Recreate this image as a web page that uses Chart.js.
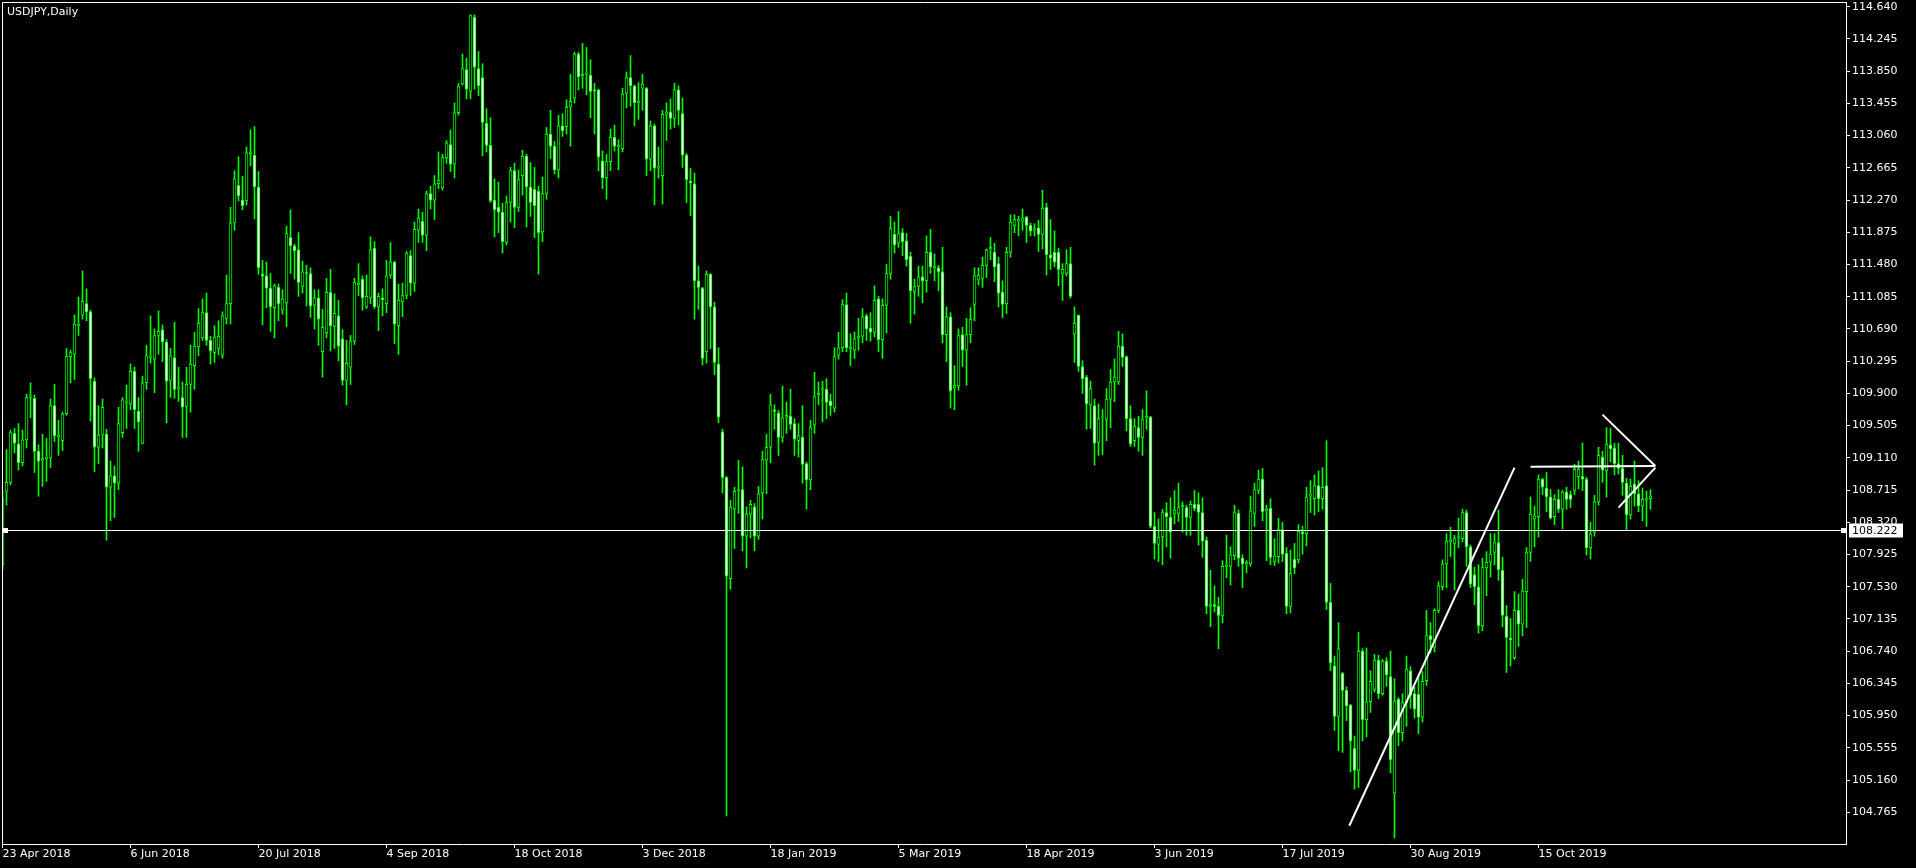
<!DOCTYPE html>
<html>
<head>
<meta charset="utf-8">
<title>USDJPY,Daily</title>
<script src="https://cdn.jsdelivr.net/npm/chart.js@4.4.1/dist/chart.umd.min.js"></script>
<style>
    html, body { margin: 0; padding: 0; background: #000; overflow: hidden; }
    canvas { display: block; }
</style>
</head>
<body>
<canvas id="chart" width="1916" height="868"></canvas>
<script>
// USDJPY daily, 23 Apr 2018 .. 22 Nov 2019 (bar 0 .. 412)
const opens = [
    107.80,108.70,108.81,109.41,109.28,109.05,109.33,109.85,109.84,109.19,
    109.08,109.10,109.11,109.75,109.37,109.32,109.65,110.35,110.38,110.73,
    110.86,111.00,110.90,110.05,109.24,109.39,109.40,108.75,108.89,108.80,
    109.42,109.78,109.77,110.17,109.68,109.29,110.03,110.34,110.32,110.61,
    110.68,110.53,110.06,110.34,109.96,109.85,109.74,110.01,110.24,110.47,
    110.58,110.89,110.55,110.40,110.45,110.37,110.82,111.00,111.99,112.45,
    112.27,112.26,112.84,112.82,112.43,111.36,111.34,111.19,110.95,111.20,
    110.92,111.01,111.81,111.71,111.66,111.21,111.38,111.37,110.98,111.07,
    110.41,110.64,111.14,110.72,110.85,110.57,110.06,110.22,110.54,111.23,
    111.30,110.96,111.07,111.68,110.96,111.07,111.00,111.35,111.51,110.73,
    111.02,111.10,111.59,111.25,111.90,112.01,111.84,112.35,112.27,112.47,
    112.42,112.79,112.95,112.71,113.34,113.69,113.87,113.60,114.51,113.88,
    113.77,113.21,112.94,112.27,112.18,112.12,111.75,112.24,112.63,112.18,
    112.57,112.81,112.43,112.40,112.38,111.88,112.35,113.08,112.93,112.64,
    113.18,113.17,113.41,113.52,114.06,113.79,113.81,113.80,113.62,113.62,
    112.75,112.54,112.74,113.04,112.92,112.90,113.58,113.77,113.67,113.46,
    113.64,113.64,112.77,113.18,112.66,112.57,113.32,113.35,113.27,113.62,
    113.33,112.82,112.50,112.47,111.28,111.19,110.41,111.36,110.96,110.26,
    109.43,108.87,107.63,108.48,108.70,108.72,108.15,108.42,108.51,108.15,
    108.68,109.08,109.24,109.70,109.66,109.36,109.61,109.62,109.53,109.32,
    109.36,109.04,108.84,109.51,109.88,109.94,109.95,109.81,109.72,110.37,
    110.46,110.99,110.45,110.43,110.58,110.60,110.85,110.70,110.65,111.06,
    110.56,110.98,111.37,111.85,111.74,111.87,111.77,111.58,111.15,111.21,
    111.33,111.28,111.63,111.44,111.44,111.39,110.62,110.84,109.97,109.99,
    110.62,110.43,110.62,110.99,111.29,111.31,111.47,111.67,111.63,111.49,
    111.14,111.00,111.63,111.96,112.01,112.01,112.06,111.96,111.90,111.93,
    111.85,112.18,111.60,111.63,111.63,111.37,111.37,111.49,110.63,110.86,
    110.23,110.10,109.76,109.75,109.30,109.60,109.58,109.83,110.04,110.04,
    110.48,110.35,109.59,109.32,109.48,109.36,109.60,109.61,108.27,108.05,
    108.14,108.44,108.38,108.43,108.43,108.51,108.50,108.38,108.54,108.54,
    108.44,108.10,107.29,107.31,107.29,107.18,107.78,107.78,107.91,108.43,
    107.88,107.81,107.81,108.43,108.71,108.85,108.46,108.49,107.84,107.90,
    108.23,107.94,107.29,107.87,107.86,108.20,108.18,108.64,108.61,108.77,
    108.61,108.77,107.34,106.56,105.94,106.47,106.26,106.08,105.55,105.28,
    106.74,105.90,106.12,106.27,106.63,106.22,106.62,106.43,105.00,106.15,
    105.74,106.11,106.50,106.22,106.21,105.93,106.38,106.93,106.79,107.24,
    107.53,107.81,108.08,108.06,108.13,108.12,108.44,108.02,107.68,107.53,
    107.05,107.76,107.83,107.95,108.07,107.73,107.17,106.90,106.66,107.24,
    107.07,107.47,107.95,108.36,108.39,108.85,108.74,108.63,108.39,108.60,
    108.48,108.69,108.66,108.71,108.88,108.88,108.85,108.01,108.20,108.57,
    109.12,108.95,109.27,109.23,109.04,108.98,108.80,108.41,108.79,108.67,
    108.52,108.59,108.61
];
const highs = [
    108.70,109.21,109.45,109.47,109.53,109.45,109.89,110.03,109.88,109.27,
    109.40,109.35,109.83,110.01,109.57,109.67,110.45,110.43,110.86,111.08,
    111.40,111.18,110.92,110.09,109.75,109.83,109.46,109.07,109.01,109.73,
    109.85,110.00,110.26,110.22,109.85,110.11,110.49,110.85,110.69,110.91,
    110.74,110.56,110.45,110.77,110.22,110.04,110.22,110.49,110.65,110.94,
    111.06,111.13,110.60,110.73,110.79,110.90,111.35,112.18,112.63,112.80,
    112.56,112.92,113.13,113.17,112.62,111.53,111.51,111.37,111.24,111.24,
    111.17,111.95,112.15,111.73,111.87,111.52,111.47,111.44,111.17,111.17,
    110.93,111.31,111.42,111.12,111.04,110.68,110.55,110.61,111.31,111.49,
    111.34,111.35,111.82,111.76,111.13,111.18,111.53,111.75,111.52,111.24,
    111.25,111.64,111.65,112.00,112.16,112.12,112.38,112.44,112.57,112.86,
    112.83,113.00,113.13,113.46,113.70,114.06,114.01,114.54,114.54,114.09,
    113.94,113.39,113.28,112.53,112.49,112.23,112.32,112.67,112.72,112.64,
    112.88,112.83,112.73,112.67,112.44,112.55,113.16,113.37,112.99,113.31,
    113.33,113.50,113.81,114.08,114.08,114.19,114.14,113.99,113.70,113.63,
    112.87,112.83,113.14,113.19,113.01,113.64,113.84,114.04,113.68,113.71,
    113.81,113.65,113.24,113.20,112.92,113.37,113.46,113.51,113.70,113.67,
    113.52,112.84,112.66,112.60,111.46,111.20,111.40,111.37,111.02,110.46,
    109.46,108.88,108.59,108.75,109.08,109.00,108.51,108.59,108.55,108.76,
    109.19,109.40,109.89,109.76,109.69,109.99,109.79,109.95,109.59,109.53,
    109.75,109.06,109.57,110.16,110.04,110.05,110.08,109.89,110.46,110.65,
    111.05,111.13,110.63,110.65,110.82,110.94,110.87,110.89,111.22,111.09,
    111.06,111.48,112.07,112.00,112.13,111.92,111.86,111.63,111.30,111.46,
    111.46,111.83,111.91,111.61,111.47,111.69,110.96,110.89,110.24,110.69,
    110.71,110.82,110.95,111.44,111.44,111.57,111.67,111.81,111.74,111.57,
    111.28,111.69,112.09,112.09,112.07,112.16,112.07,111.99,111.98,112.02,
    112.39,112.23,112.03,111.89,111.68,111.49,111.66,111.69,110.96,110.86,
    110.30,110.12,110.05,109.83,109.77,109.70,109.96,110.19,110.32,110.66,
    110.63,110.36,109.75,109.59,109.62,109.70,109.93,109.62,108.44,108.36,
    108.48,108.56,108.62,108.71,108.80,108.57,108.53,108.58,108.71,108.68,
    108.62,108.14,107.73,107.54,107.40,107.85,108.16,108.02,108.53,108.47,
    107.92,107.85,108.64,108.80,108.96,108.98,108.53,108.61,108.12,108.37,
    108.32,108.01,107.98,108.06,108.29,108.27,108.75,108.83,108.90,108.95,
    108.99,109.32,107.57,106.68,107.09,106.48,106.30,106.09,105.70,106.97,
    106.77,106.78,106.50,106.70,106.69,106.64,106.66,106.74,106.40,106.17,
    106.22,106.68,106.55,106.30,106.43,106.49,107.24,107.09,107.26,107.59,
    107.86,108.18,108.26,108.16,108.37,108.48,108.47,108.04,107.77,107.80,
    107.88,107.96,108.18,108.18,108.47,107.89,107.30,107.14,107.47,107.44,
    107.62,108.01,108.63,108.52,108.90,108.86,108.93,108.72,108.66,108.72,
    108.71,108.75,108.70,109.03,109.07,109.29,108.87,108.32,108.65,109.24,
    109.19,109.48,109.47,109.29,109.29,109.14,108.86,108.85,109.07,108.83,
    108.74,108.70,108.72
];
const lows = [
    107.74,108.53,108.78,109.17,108.96,109.01,109.23,109.60,108.93,108.64,
    108.76,108.82,108.99,109.31,109.14,109.20,109.63,110.03,110.07,110.61,
    110.81,110.79,109.56,108.94,109.04,109.23,108.10,108.34,108.38,108.72,
    109.36,109.47,109.70,109.47,109.19,109.28,109.95,110.27,109.91,110.38,
    110.29,109.54,109.85,109.84,109.80,109.36,109.36,109.67,109.95,110.36,
    110.55,110.49,110.26,110.28,110.37,110.33,110.75,110.75,111.90,112.26,
    112.15,112.21,112.69,112.04,111.36,110.74,110.95,110.66,110.58,110.79,
    110.87,110.72,111.37,111.30,111.09,111.13,110.97,110.83,110.69,110.49,
    110.10,110.58,110.42,110.45,110.30,110.00,109.76,110.01,110.50,111.10,
    110.92,110.94,111.00,110.94,110.67,110.85,110.89,111.31,110.51,110.38,
    110.84,111.06,111.10,111.15,111.75,111.75,111.65,112.16,112.03,112.41,
    112.39,112.72,112.62,112.54,113.31,113.68,113.51,113.51,113.63,113.55,
    112.81,112.86,112.24,111.82,111.87,111.62,111.72,112.00,111.93,112.13,
    112.33,111.94,112.07,111.81,111.36,111.76,112.28,112.78,112.59,112.54,
    113.05,113.08,112.93,113.46,113.62,113.64,113.56,113.28,113.08,112.63,
    112.41,112.28,112.63,112.87,112.64,112.86,113.40,113.42,113.18,113.26,
    113.37,112.57,112.63,112.21,112.54,112.22,113.00,113.14,113.16,113.19,
    112.67,112.24,112.08,110.81,110.93,110.25,110.27,110.45,110.13,109.54,
    108.68,104.72,107.50,108.00,108.43,107.97,107.76,108.13,107.97,108.11,
    108.36,108.67,109.05,109.46,109.14,109.30,109.41,109.46,109.14,109.12,
    108.80,108.48,108.72,109.41,109.76,109.55,109.59,109.63,109.67,110.32,
    110.41,110.41,110.24,110.33,110.43,110.52,110.55,110.54,110.59,110.41,
    110.33,110.64,111.30,111.62,111.69,111.59,111.46,110.76,110.87,111.09,
    111.01,111.14,111.37,111.28,111.16,110.52,110.29,109.72,109.70,109.94,
    110.23,110.00,110.52,110.79,111.23,111.20,111.32,111.54,111.27,110.96,
    110.83,110.88,111.57,111.87,111.83,111.90,111.75,111.83,111.83,111.64,
    111.67,111.35,111.42,111.45,111.22,111.04,111.34,111.07,110.28,110.17,
    109.90,109.46,109.47,109.02,109.14,109.15,109.32,109.48,109.80,110.01,
    110.23,109.44,109.25,109.25,109.19,109.14,109.46,108.25,107.87,107.84,
    107.80,108.02,107.88,108.30,108.33,108.20,108.16,108.16,108.46,108.04,
    107.89,107.20,107.04,107.22,106.77,107.09,107.64,107.55,107.86,107.78,
    107.52,107.70,107.78,108.27,108.67,108.34,107.85,107.80,107.79,107.82,
    107.84,107.20,107.21,107.69,107.82,107.93,108.03,108.44,108.41,108.45,
    108.48,107.25,106.50,105.77,105.52,105.50,105.89,105.26,105.05,105.07,
    105.64,105.69,105.99,106.24,106.16,106.20,106.31,105.25,104.45,105.58,
    105.64,105.82,106.04,105.92,105.73,105.87,106.32,106.72,106.73,107.21,
    107.49,107.52,107.90,107.49,108.01,108.08,107.78,107.52,107.31,106.96,
    106.99,107.42,107.65,107.80,107.61,107.04,106.48,106.56,106.64,106.80,
    106.93,107.03,107.84,108.02,108.14,108.66,108.45,108.36,108.29,108.44,
    108.24,108.48,108.50,108.66,108.73,108.71,107.92,107.87,108.15,108.53,
    108.81,108.63,109.06,108.90,108.91,108.65,108.23,108.36,108.52,108.45,
    108.34,108.27,108.48
];
const closes = [
    108.60,108.81,109.42,109.29,109.05,109.33,109.85,109.87,109.19,109.07,
    109.10,109.12,109.75,109.38,109.39,109.65,110.35,110.40,110.75,110.75,
    111.03,110.90,110.08,109.24,109.39,109.73,108.75,108.89,108.80,109.53,
    109.82,109.80,110.17,109.70,109.55,110.03,110.36,110.36,110.61,110.66,
    110.53,110.05,110.36,109.95,109.98,109.73,110.01,110.26,110.48,110.76,
    110.89,110.55,110.42,110.59,110.60,110.85,111.00,111.99,112.53,112.32,
    112.20,112.85,112.86,112.43,111.44,111.34,111.19,110.96,111.22,111.00,
    111.06,111.86,111.71,111.65,111.26,111.39,111.37,110.97,111.07,110.81,
    110.71,111.14,110.73,110.88,110.48,110.06,110.27,110.54,111.26,111.25,
    111.07,111.09,111.66,110.96,111.09,111.05,111.34,111.51,110.75,111.04,
    111.10,111.62,111.25,111.91,112.05,111.84,112.35,112.27,112.47,112.51,
    112.79,112.97,112.71,113.34,113.66,113.88,113.63,114.53,113.90,113.67,
    113.22,112.94,112.26,112.15,112.12,111.76,112.24,112.63,112.18,112.52,
    112.81,112.43,112.24,112.20,111.87,112.35,113.08,112.93,112.64,113.18,
    113.12,113.41,113.48,114.06,113.78,113.81,113.83,113.60,113.61,112.80,
    112.54,112.74,113.04,112.93,112.94,113.57,113.77,113.67,113.46,113.48,
    113.69,112.77,113.18,112.66,112.68,113.32,113.35,113.27,113.62,113.37,
    112.82,112.52,112.48,111.28,111.20,110.33,111.36,110.96,110.28,109.61,
    108.87,107.66,108.50,108.70,108.72,108.15,108.42,108.54,108.15,108.67,
    109.09,109.24,109.76,109.68,109.36,109.60,109.63,109.52,109.34,109.38,
    109.03,108.84,109.48,109.86,109.90,109.96,109.79,109.75,110.35,110.46,
    110.99,110.46,110.47,110.57,110.60,110.84,110.69,110.65,111.04,110.56,
    110.98,111.37,111.92,111.72,111.86,111.76,111.54,111.16,111.21,111.33,
    111.28,111.63,111.45,111.46,111.39,110.62,110.84,109.93,110.00,110.61,
    110.43,110.62,110.81,111.34,111.35,111.47,111.66,111.69,111.45,111.13,
    110.99,111.63,112.00,112.03,112.03,112.05,111.96,111.89,111.92,111.85,
    112.17,111.60,111.56,111.51,111.42,111.42,111.49,111.09,110.76,110.23,
    110.08,109.77,109.96,109.29,109.59,109.61,109.83,110.04,110.10,110.48,
    110.34,109.59,109.28,109.50,109.36,109.58,109.62,108.27,108.06,108.14,
    108.44,108.39,108.20,108.47,108.50,108.53,108.38,108.54,108.49,108.44,
    108.09,107.29,107.31,107.29,107.18,107.78,107.80,107.92,108.44,107.88,
    107.81,107.83,108.46,108.72,108.85,108.45,108.48,107.89,107.91,108.23,
    107.93,107.29,107.69,107.76,108.21,108.18,108.63,108.66,108.77,108.61,
    108.75,107.34,106.60,105.94,106.77,106.26,106.07,105.64,105.28,106.74,
    105.90,106.12,106.37,106.63,106.22,106.62,106.45,105.41,106.13,105.74,
    106.11,106.52,106.20,106.03,105.93,106.37,106.93,106.88,107.24,107.54,
    107.81,108.09,108.10,108.12,108.14,108.44,108.02,107.56,107.53,107.05,
    107.77,107.83,107.93,108.07,107.74,107.18,106.91,106.88,107.24,107.07,
    107.48,107.95,108.42,108.40,108.85,108.75,108.63,108.37,108.60,108.48,
    108.69,108.60,108.60,108.97,108.97,108.85,108.01,108.18,108.57,109.14,
    108.96,109.28,109.22,109.04,108.98,108.81,108.41,108.76,108.67,108.52,
    108.60,108.61,108.64
];

// bottom time scale: label text and the bar it sits on
const dateLabels = ['23 Apr 2018', '6 Jun 2018', '20 Jul 2018', '4 Sep 2018', '18 Oct 2018',
    '3 Dec 2018', '18 Jan 2019', '5 Mar 2019', '18 Apr 2019', '3 Jun 2019',
    '17 Jul 2019', '30 Aug 2019', '15 Oct 2019'];
const dateBars = [0, 32, 64, 96, 128, 160, 192, 224, 256, 288, 320, 352, 384];

// right price scale
const priceTicks = [104.765, 105.160, 105.555, 105.950, 106.345, 106.740, 107.135, 107.530,
    107.925, 108.320, 108.715, 109.110, 109.505, 109.900, 110.295, 110.690, 111.085,
    111.480, 111.875, 112.270, 112.665, 113.060, 113.455, 113.850, 114.245, 114.640];

// drawn objects: [bar, price] end points
const hLevel = 108.222;
const trendLine = [[336.7, 104.60], [378.0, 108.99]];
const flatLine = [[382.0, 109.00], [413.2, 109.01]];
const wedgeUpper = [[400.0, 109.64], [413.2, 109.01]];
const wedgeLower = [[404.0, 108.50], [413.2, 108.99]];

const LIME = '#00ff00';
const FONT = 'DejaVu Sans';

const bodies = opens.map((o, i) => ({ x: i, y: [o, closes[i]] }));
const wicks = lows.map((l, i) => ({ x: i, y: [l, highs[i]] }));
const bodyFill = opens.map((o, i) => closes[i] >= o ? '#000000' : '#ffffff');

// 그리기: 배경, 수평선, 추세선, 가격 박스, 제목
const overlay = {
    id: 'overlay',
    beforeDraw(chart) {
        const ctx = chart.ctx;
        ctx.save();
        ctx.fillStyle = '#000';
        ctx.fillRect(0, 0, chart.width, chart.height);
        ctx.restore();
    },
    afterDraw(chart) {
        const ctx = chart.ctx;
        const a = chart.chartArea;
        const xs = chart.scales.x, ys = chart.scales.y;
        const yh = Math.round(ys.getPixelForValue(hLevel)) + 0.5;

        ctx.save();
        ctx.beginPath();
        ctx.rect(a.left, a.top, a.right - a.left, a.bottom - a.top);
        ctx.clip();

        ctx.strokeStyle = '#fff';
        ctx.lineWidth = 1;
        ctx.beginPath();
        ctx.moveTo(a.left, yh);
        ctx.lineTo(a.right, yh);
        ctx.stroke();

        ctx.lineWidth = 2;
        [trendLine, flatLine, wedgeUpper, wedgeLower].forEach(seg => {
            ctx.beginPath();
            ctx.moveTo(xs.getPixelForValue(seg[0][0]), ys.getPixelForValue(seg[0][1]));
            ctx.lineTo(xs.getPixelForValue(seg[1][0]), ys.getPixelForValue(seg[1][1]));
            ctx.stroke();
        });
        ctx.restore();

        ctx.save();
        // line anchors
        ctx.fillStyle = '#fff';
        ctx.fillRect(a.left + 1, yh - 2.5, 5, 5);
        ctx.fillRect(a.right - 5, yh - 2.5, 5, 5);

        // frame left/top
        ctx.strokeStyle = '#fff';
        ctx.lineWidth = 1;
        ctx.beginPath();
        ctx.moveTo(a.left + 0.5, a.bottom);
        ctx.lineTo(a.left + 0.5, a.top + 0.5);
        ctx.lineTo(a.right, a.top + 0.5);
        ctx.stroke();

        // price box on the axis
        ctx.fillStyle = '#fff';
        ctx.fillRect(a.right + 3, yh - 7, 54, 14);
        ctx.fillStyle = '#000';
        ctx.font = '11px ' + FONT;
        ctx.textBaseline = 'middle';
        ctx.textAlign = 'left';
        ctx.fillText(hLevel.toFixed(3), a.right + 6, yh + 0.5);

        // title
        ctx.fillStyle = '#fff';
        ctx.fillText('USDJPY,Daily', 7, 12);
        ctx.restore();
    }
};

const chart = new Chart(document.getElementById('chart'), {
    type: 'bar',
    data: {
        datasets: [
            {
                data: bodies,
                backgroundColor: bodyFill,
                borderColor: LIME,
                borderWidth: 1,
                borderSkipped: false,
                barThickness: 3,
                minBarLength: 1,
                grouped: false,
                order: 0
            },
            {
                data: wicks,
                backgroundColor: LIME,
                borderWidth: 0,
                barThickness: 1,
                grouped: false,
                order: 1
            }
        ]
    },
    options: {
        responsive: false,
        devicePixelRatio: 1,
        animation: false,
        events: [],
        layout: { padding: { left: 2, top: 2, right: 0, bottom: 0 } },
        plugins: {
            legend: { display: false },
            tooltip: { enabled: false }
        },
        scales: {
            x: {
                type: 'linear',
                position: 'bottom',
                offset: false,
                min: -0.125,
                max: 460.875,
                grid: { offset: false, drawOnChartArea: false, color: '#fff', tickLength: 4 },
                border: { display: true, color: '#fff' },
                ticks: {
                    autoSkip: false,
                    maxRotation: 0,
                    minRotation: 0,
                    align: 'start',
                    padding: 0,
                    color: '#fff',
                    font: { family: FONT, size: 11 },
                    callback: (v, i) => dateLabels[i]
                },
                afterBuildTicks: s => { s.ticks = dateBars.map(v => ({ value: v })); },
                afterFit: s => { s.height = 24; s.paddingLeft = 0; s.paddingRight = 0; }
            },
            y: {
                type: 'linear',
                position: 'right',
                min: 104.3766,
                max: 114.6976,
                grid: { drawOnChartArea: false, color: '#fff', tickLength: 4 },
                border: { display: true, color: '#fff' },
                ticks: {
                    autoSkip: false,
                    padding: 2,
                    color: '#fff',
                    font: { family: FONT, size: 11 },
                    callback: v => Number(v).toFixed(3)
                },
                afterBuildTicks: s => { s.ticks = priceTicks.map(v => ({ value: v })); },
                afterFit: s => { s.width = 70; s.paddingTop = 0; s.paddingBottom = 0; }
            }
        }
    },
    plugins: [overlay]
});
</script>
</body>
</html>
